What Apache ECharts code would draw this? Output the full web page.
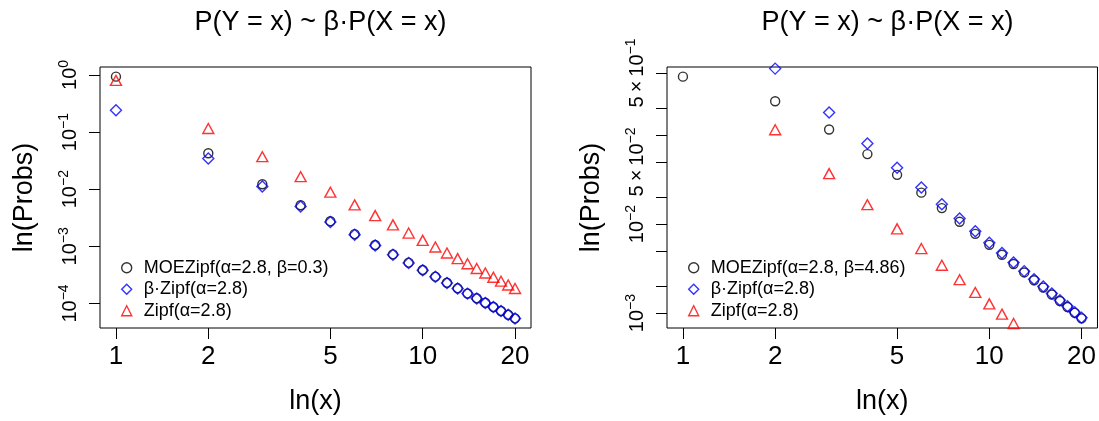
<!DOCTYPE html>
<html><head><meta charset="utf-8">
<script src="https://cdn.jsdelivr.net/npm/echarts@6/dist/echarts.min.js"></script>
<style>html,body{margin:0;padding:0;background:#fff}#c{width:1099px;height:421px}</style>
</head><body><div id="c"></div>
<script>
// ---------------- data ----------------
const xValues = [1,2,3,4,5,6,7,8,9,10,11,12,13,14,15,16,17,18,19,20];
const leftMOE = [0.93101,0.042576,0.012175,0.0052325,0.0027508,0.0016345,0.0010550,0.00072287,0.00051830,0.00038508,0.00029443,0.00023048,0.00018403,0.00014944,0.00012310,0.00010270,0.000086624,0.000073785,0.000063398,0.000054903];
const leftBetaZipf = [0.24057,0.034543,0.011099,0.0049599,0.0026554,0.0015938,0.0010351,0.00071217,0.0005121,0.00038127,0.00029198,0.00022884,0.0001829,0.00014863,0.00012251,0.00010226,0.000086295,0.00007353,0.000063201,0.000054747];
const zipfProbs = [0.80191,0.115143,0.036998,0.016533,0.0088514,0.0053125,0.0034503,0.0023739,0.0017070,0.0012709,0.00097327,0.00076280,0.00060966,0.00049542,0.00040838,0.00034086,0.00028765,0.00024510,0.00021067,0.00018249];
const rightMOE = [0.45444,0.24021,0.115684,0.061287,0.035790,0.022590,0.015146,0.010647,0.0077730,0.0058521,0.0045197,0.0035656,0.0028646,0.0023376,0.0019335,0.0016185,0.0013691,0.0011690,0.0010066,0.00087319];
const rightBetaZipf = [3.89728,0.559595,0.17981,0.080350,0.043018,0.025819,0.016768,0.011537,0.0082960,0.0061766,0.0047301,0.0037072,0.0029629,0.0024077,0.0019847,0.0016566,0.0013980,0.0011912,0.0010239,0.00088690];

const xTicks = [1,2,5,10,20];
const xTickLabels = ['1','2','5','10','20'];
const leftYTicks = [1,0.1,0.01,0.001,0.0001];
const leftYTickLabels = ['{b|10}{s|0}','{b|10}{s|\u22121}','{b|10}{s|\u22122}','{b|10}{s|\u22123}','{b|10}{s|\u22124}'];
const rightYTicks = [0.5,0.2,0.1,0.05,0.02,0.01,0.005,0.002,0.001];
const rightYLabelValues = [0.5,0.05,0.01,0.001];
const rightYTickLabels = ['{b|5\u2009\u00d7\u200910}{s|\u22121}','{b|5\u2009\u00d7\u200910}{s|\u22122}','{b|10}{s|\u22122}','{b|10}{s|\u22123}'];

const titleText = 'P(Y = x) ~ \u03b2\u00b7P(X = x)';
const xName = 'ln(x)';
const yName = 'ln(Probs)';
const leftNames = ['MOEZipf(\u03b1=2.8, \u03b2=0.3)','\u03b2\u00b7Zipf(\u03b1=2.8)','Zipf(\u03b1=2.8)'];
const rightNames = ['MOEZipf(\u03b1=2.8, \u03b2=4.86)','\u03b2\u00b7Zipf(\u03b1=2.8)','Zipf(\u03b1=2.8)'];

// ---------------- styles ----------------
const FONT = '"Liberation Sans", Arial, Helvetica, sans-serif';
const colors = ['#000000','#0000ff','#ff0000'];
const symbols = ['circle','diamond','triangle'];
const symSizes = [9, 11, [11,10]];

function pairs(ys){ return xValues.map((x,i)=>[x, ys[i]]); }
function lookup(vals, labels){
  return function(v){
    for (let i=0;i<vals.length;i++){
      if (Math.abs(Math.log10(v) - Math.log10(vals[i])) < 1e-6) return labels[i];
    }
    return '';
  };
}
const richY = {
  b: {fontSize: 20, fontFamily: FONT, color: '#000', verticalAlign: 'bottom'},
  s: {fontSize: 14, fontFamily: FONT, color: '#000', verticalAlign: 'bottom', padding: [0,0,9,0]}
};

function makeX(idx){
  return {
    type: 'log', logBase: 10, gridIndex: idx,
    min: 0.88712, max: 22.546,
    name: xName, nameLocation: 'middle', nameGap: 60,
    nameTextStyle: {fontSize: 27, fontFamily: FONT, color: '#000'},
    axisLine: {show: false},
    axisTick: {show: true, inside: false, length: 11, lineStyle: {color: '#000', width: 1}, customValues: xTicks},
    axisLabel: {show: true, margin: 16, fontSize: 26, fontFamily: FONT, color: '#000', customValues: xTicks,
      formatter: lookup(xTicks, xTickLabels)},
    splitLine: {show: false}, minorTick: {show: false}
  };
}
function makeY(idx, min, max, ticks, labelVals, labels){
  return {
    type: 'log', logBase: 10, gridIndex: idx,
    min: min, max: max,
    name: yName, nameLocation: 'middle', nameGap: 62, nameRotate: 90,
    nameTextStyle: {fontSize: 27, fontFamily: FONT, color: '#000'},
    axisLine: {show: false},
    axisTick: {show: true, inside: false, length: 11, lineStyle: {color: '#000', width: 1}, customValues: ticks},
    axisLabel: {show: true, rotate: 90, margin: 20, customValues: labelVals,
      formatter: lookup(labelVals, labels), rich: richY},
    splitLine: {show: false}, minorTick: {show: false}
  };
}
function makeSeries(name, ys, k, idx){
  return {
    type: 'scatter', name: name, xAxisIndex: idx, yAxisIndex: idx,
    data: pairs(ys), symbol: symbols[k], symbolSize: symSizes[k],
    itemStyle: {color: 'rgba(0,0,0,0)', borderColor: colors[k], borderWidth: 1.4},
    emphasis: {disabled: true}, clip: true
  };
}
function makeLegend(idx, names, left){
  return {
    show: true, orient: 'vertical', left: left, top: 252,
    itemWidth: 10, itemHeight: 10, itemGap: 0,
    selectedMode: false,
    textStyle: {fontSize: 18, fontFamily: FONT, color: '#000', lineHeight: 21.5, padding: [0,0,0,7]},
    data: names.map((n,k)=>({name: n, icon: symbols[k],
      itemStyle: {color: 'rgba(0,0,0,0)', borderColor: colors[k], borderWidth: 1.4}}))
  };
}

const chart = echarts.init(document.getElementById('c'), null, {renderer: 'canvas'});
chart.setOption({
  animation: false,
  backgroundColor: '#fff',
  title: [
    {text: titleText, left: 315.5, top: 4, textAlign: 'center',
      textStyle: {fontSize: 27, fontWeight: 'normal', fontFamily: FONT, color: '#000'}},
    {text: titleText, left: 882.5, top: 4, textAlign: 'center',
      textStyle: {fontSize: 27, fontWeight: 'normal', fontFamily: FONT, color: '#000'}}
  ],
  grid: [
    {left: 100, top: 67, width: 431, height: 261, show: true, borderColor: '#000', borderWidth: 1, containLabel: false},
    {left: 667, top: 67, width: 431, height: 261, show: true, borderColor: '#000', borderWidth: 1, containLabel: false}
  ],
  xAxis: [makeX(0), makeX(1)],
  yAxis: [
    makeY(0, 3.7191e-5, 1.3744, leftYTicks, leftYTicks, leftYTickLabels),
    makeY(1, 6.7997e-4, 0.58357, rightYTicks, rightYLabelValues, rightYTickLabels)
  ],
  legend: [makeLegend(0, leftNames, 116), makeLegend(1, rightNames, 683)],
  series: [
    makeSeries(leftNames[0], leftMOE, 0, 0),
    makeSeries(leftNames[1], leftBetaZipf, 1, 0),
    makeSeries(leftNames[2], zipfProbs, 2, 0),
    makeSeries(rightNames[0], rightMOE, 0, 1),
    makeSeries(rightNames[1], rightBetaZipf, 1, 1),
    makeSeries(rightNames[2], zipfProbs, 2, 1)
  ]
});
</script>
</body></html>
